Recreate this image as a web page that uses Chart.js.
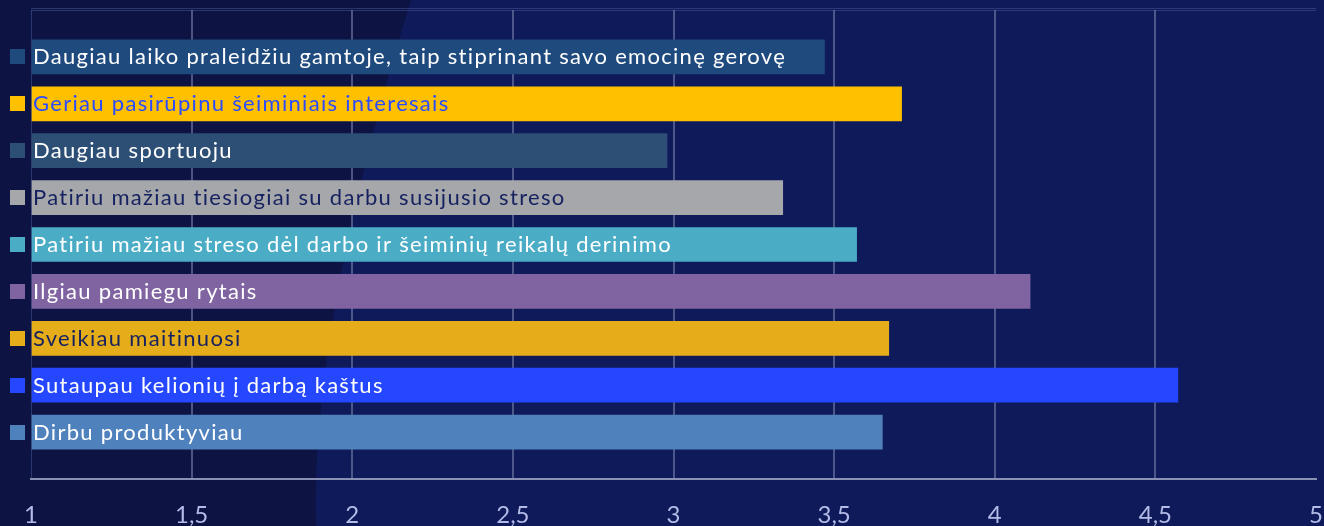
<!DOCTYPE html>
<html>
<head>
<meta charset="utf-8">
<script src="https://cdn.jsdelivr.net/npm/chart.js@4/dist/chart.umd.min.js"></script>
<style>
  html, body { margin: 0; padding: 0; background: #0f1a5a; }
  #wrap { width: 1324px; height: 526px; position: relative; }
</style>
</head>
<body>
<div id="wrap"><canvas id="c" width="1324" height="526"></canvas></div>
<script>
const categories = [
  "Daugiau laiko praleidžiu gamtoje, taip stiprinant savo emocinę gerovę",
  "Geriau pasirūpinu šeiminiais interesais",
  "Daugiau sportuoju",
  "Patiriu mažiau tiesiogiai su darbu susijusio streso",
  "Patiriu mažiau streso dėl darbo ir šeiminių reikalų derinimo",
  "Ilgiau pamiegu rytais",
  "Sveikiau maitinuosi",
  "Sutaupau kelionių į darbą kaštus",
  "Dirbu produktyviau"
];
const values = [3.47, 3.71, 2.98, 3.34, 3.57, 4.11, 3.67, 4.57, 3.65];
const axisMin = 1;
const axisMax = 5;
const axisStep = 0.5;

const barColors = ["#1f4a7e", "#ffc000", "#2d4f75", "#a6a7ab", "#4bacc6", "#8064a2", "#e6ad1a", "#2447ff", "#4f81bd"];
const labelColors = ["#ffffff", "#2b4cff", "#ffffff", "#16215f", "#ffffff", "#ffffff", "#16215f", "#ffffff", "#ffffff"];

const bgPlugin = {
  id: 'bg',
  beforeDraw(chart) {
    const ctx = chart.ctx;
    ctx.save();
    ctx.fillStyle = '#0f1a5a';
    ctx.fillRect(0, 0, chart.width, chart.height);
    ctx.fillStyle = '#0d1444';
    ctx.beginPath();
    ctx.moveTo(0, 0);
    ctx.lineTo(411, 0);
    ctx.quadraticCurveTo(310, 330, 316, 526);
    ctx.lineTo(0, 526);
    ctx.closePath();
    ctx.fill();
    const a = chart.chartArea;
    ctx.strokeStyle = 'rgba(70,85,150,0.55)';
    ctx.lineWidth = 1;
    ctx.beginPath();
    ctx.moveTo(a.left, a.top - 1.5);
    ctx.lineTo(a.right, a.top - 1.5);
    ctx.moveTo(a.left, a.top + 0.5);
    ctx.lineTo(a.right, a.top + 0.5);
    ctx.moveTo(a.left + 0.5, a.top);
    ctx.lineTo(a.left + 0.5, a.bottom);
    ctx.stroke();
    ctx.restore();
  }
};

const labelPlugin = {
  id: 'barLabels',
  afterDatasetsDraw(chart) {
    const ctx = chart.ctx;
    const meta = chart.getDatasetMeta(0);
    const left = chart.scales.x.getPixelForValue(axisMin);
    ctx.save();
    ctx.font = '22px Lato';
    ctx.letterSpacing = '1.3px';
    ctx.textAlign = 'left';
    ctx.textBaseline = 'alphabetic';
    meta.data.forEach((bar, i) => {
      const p = bar.getProps(['x', 'y'], true);
      ctx.fillStyle = barColors[i];
      ctx.fillRect(10, Math.round(p.y - 7.5), 15, 15);
      ctx.fillStyle = labelColors[i];
      ctx.fillText(categories[i], left + 2, p.y + 7.5);
    });
    ctx.restore();
  }
};

new Chart(document.getElementById('c'), {
  type: 'bar',
  data: {
    datasets: [{
      data: values.map((v, i) => ({ x: v, y: i })),
      base: axisMin,
      backgroundColor: barColors,
      borderWidth: 0,
      barThickness: 34
    }]
  },
  options: {
    indexAxis: 'y',
    responsive: false,
    animation: false,
    events: [],
    layout: { padding: { left: 31, right: 8, top: 10, bottom: 0 } },
    plugins: { legend: { display: false }, tooltip: { enabled: false } },
    scales: {
      x: {
        type: 'linear',
        min: axisMin,
        max: axisMax,
        afterFit(scale) { scale.height = 47; scale.paddingLeft = 0; scale.paddingRight = 0; },
        ticks: {
          stepSize: axisStep,
          color: '#b3bbe6',
          font: { family: 'Lato', size: 24 },
          padding: 22,
          callback: (v) => String(v).replace('.', ',')
        },
        grid: {
          drawTicks: false,
          lineWidth: 2,
          color: (c) => (c.tick && (c.tick.value === axisMin || c.tick.value === axisMax)) ? 'rgba(0,0,0,0)' : 'rgba(120,128,170,0.6)'
        },
        border: { display: true, color: '#8a90b2', width: 2 }
      },
      y: {
        type: 'linear',
        min: -1,
        max: 9,
        offset: false,
        reverse: true,
        display: false
      }
    }
  },
  plugins: [bgPlugin, labelPlugin]
});
</script>
</body>
</html>
